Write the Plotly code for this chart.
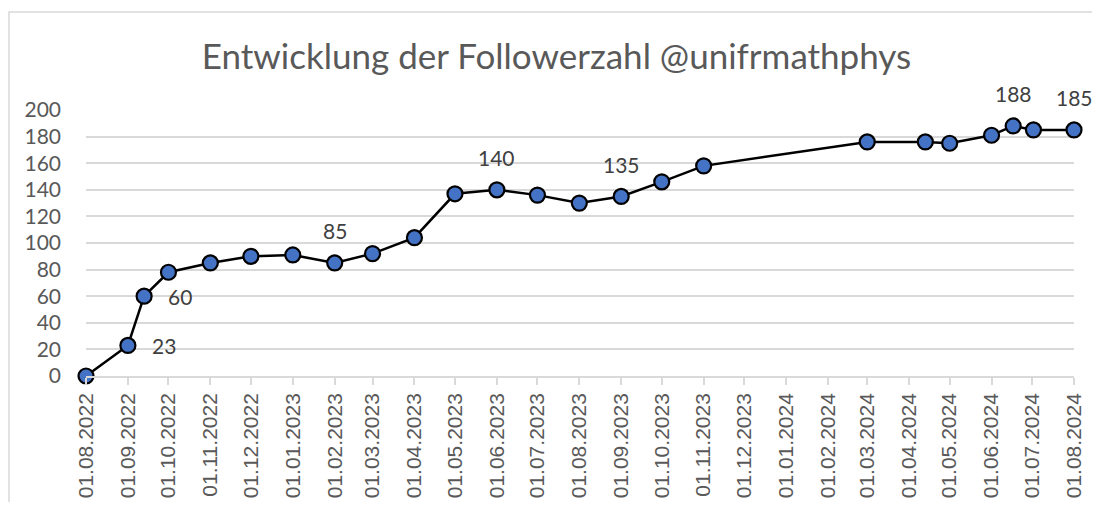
import plotly.graph_objects as go

dates = ["2022-08-01", "2022-09-01", "2022-09-13", "2022-10-01", "2022-11-01",
         "2022-12-01", "2023-01-01", "2023-02-01", "2023-03-01", "2023-04-01",
         "2023-05-01", "2023-06-01", "2023-07-01", "2023-08-01", "2023-09-01",
         "2023-10-01", "2023-11-01", "2024-03-01", "2024-04-13", "2024-05-01",
         "2024-06-01", "2024-06-17", "2024-07-02", "2024-08-01"]
followers = [0, 23, 60, 78, 85, 90, 91, 85, 92, 104, 137, 140, 136, 130, 135,
             146, 158, 176, 176, 175, 181, 188, 185, 185]

# labelled points
label_right = [1, 2]
label_top = [7, 11, 14, 21, 23]

tick_dates = []
y, m = 2022, 8
while (y, m) <= (2024, 8):
    tick_dates.append(f"{y:04d}-{m:02d}-01")
    m += 1
    if m > 12:
        m = 1
        y += 1
tick_text = [f"01.{d[5:7]}.{d[0:4]}" for d in tick_dates]

y_ticks = list(range(0, 201, 20))

W, H = 1084, 494
L, R, T, B = 78, 18, 102, 126
pw, ph = W - L - R, H - T - B

fig = go.Figure()
fig.add_trace(go.Scatter(
    x=dates, y=followers, mode="lines+markers",
    line=dict(color="black", width=2.5),
    marker=dict(size=15, color="#4472C4", line=dict(color="black", width=2.2)),
    cliponaxis=False, showlegend=False, hoverinfo="x+y",
))

annotations = []
for i in label_right:
    annotations.append(dict(x=dates[i], y=followers[i], text=str(followers[i]),
                            showarrow=False, xanchor="left", yanchor="middle",
                            xshift=22, font=dict(family="Lato", size=21, color="#404040")))
for i in label_top:
    annotations.append(dict(x=dates[i], y=followers[i], text=str(followers[i]),
                            showarrow=False, xanchor="center", yanchor="middle",
                            yshift=32, font=dict(family="Lato", size=21, color="#404040")))

fig.update_layout(
    width=W, height=H, autosize=False,
    margin=dict(l=L, r=R, t=T, b=B, pad=0, autoexpand=False),
    paper_bgcolor="white", plot_bgcolor="white",
    title=dict(text="Entwicklung der Followerzahl @unifrmathphys",
               x=548.5 / W, xref="container", xanchor="center",
               y=1 - 49 / H, yref="container", yanchor="middle",
               font=dict(family="Lato", size=35, color="#595959")),
    annotations=annotations,
    shapes=[dict(type="rect", xref="paper", yref="paper",
                 x0=-(L - 1) / pw, x1=1.2, y0=-0.8, y1=1 + (T - 4) / ph,
                 line=dict(color="#d9d9d9", width=1.5), layer="below")],
)
fig.update_xaxes(
    type="date", range=["2022-08-01", "2024-08-01"],
    tickvals=tick_dates, ticktext=tick_text, tickangle=-90,
    tickfont=dict(family="Liberation Sans", size=21, color="#595959"),
    ticks="outside", ticklen=7, tickcolor="#d9d9d9", tickwidth=1.5,
    showgrid=False, showline=True, linecolor="#d9d9d9", linewidth=1.5,
    zeroline=False, ticklabelstandoff=0, automargin=False,
)
fig.update_yaxes(
    range=[0, 200], tickvals=y_ticks,
    tickfont=dict(family="Lato", size=21, color="#595959"),
    showgrid=True, gridcolor="#d9d9d9", gridwidth=1.5,
    zeroline=False, showline=False, ticks="", ticklabelstandoff=24,
    automargin=False,
)

fig.write_html("out.html")
